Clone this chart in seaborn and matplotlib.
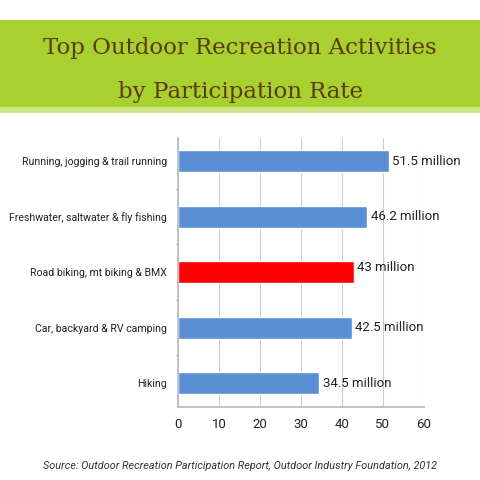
import seaborn as sns
import matplotlib.pyplot as plt
import pandas as pd
from matplotlib.patches import Rectangle

activities = [
    "Running, jogging & trail running",
    "Freshwater, saltwater & fly fishing",
    "Road biking, mt biking & BMX",
    "Car, backyard & RV camping",
    "Hiking",
]
participants = [51.5, 46.2, 43.0, 42.5, 34.5]
value_labels = ["51.5 million", "46.2 million", "43 million", "42.5 million", "34.5 million"]
highlight = "Road biking, mt biking & BMX"
x_ticks = [0, 10, 20, 30, 40, 50, 60]

df = pd.DataFrame({"activity": activities, "millions": participants})

sns.set_theme(style="white")
plt.rcParams["font.family"] = ["Roboto", "DejaVu Sans"]

BLUE = "#5a8fd6"
RED = "#ff0000"
palette = {a: (RED if a == highlight else BLUE) for a in activities}

fig = plt.figure(figsize=(4.8, 4.8), dpi=100)
fig.patch.set_facecolor("white")

# green title banner
fig.patches.append(Rectangle((0, 0.775), 1, 0.183, transform=fig.transFigure,
                             facecolor="#a8d02e", edgecolor="none", zorder=0))
fig.patches.append(Rectangle((0, 0.765), 1, 0.012, transform=fig.transFigure,
                             facecolor="#cfe58a", edgecolor="none", zorder=0))
fig.text(0.5, 0.900, "Top Outdoor Recreation Activities", ha="center", va="center",
         fontsize=16.5, color="#5b3a10", family=["DejaVu Serif"])
fig.text(0.5, 0.808, "by Participation Rate", ha="center", va="center",
         fontsize=16.5, color="#5b3a10", family=["DejaVu Serif"])

ax = fig.add_axes([0.371, 0.153, 0.512, 0.56])
sns.barplot(data=df, x="millions", y="activity", hue="activity", palette=palette,
            order=activities, width=0.4, legend=False, ax=ax, saturation=1)

ax.set_xlim(0, 60)
ax.set_xticks(x_ticks)
ax.set_xlabel("")
ax.set_ylabel("")
ax.grid(axis="x", color="#cccccc", linewidth=0.8)
ax.set_axisbelow(True)
for s in ["top", "right"]:
    ax.spines[s].set_visible(False)
ax.spines["left"].set_color("#bbbbbb")
ax.spines["bottom"].set_color("#bbbbbb")
ax.tick_params(axis="x", labelsize=9.5, colors="#222222", length=0, pad=8)
ax.tick_params(axis="y", labelsize=7.6, colors="#222222", length=0, pad=8)

# small ticks between categories on the left spine
for b in [0.5, 1.5, 2.5, 3.5]:
    ax.plot([-0.6, 0], [b, b], color="#bbbbbb", lw=0.8, clip_on=False)

for i, (v, lab) in enumerate(zip(participants, value_labels)):
    dy = -0.08 if activities[i] == highlight else 0
    ax.text(v + 0.8, i + dy, lab, va="center", ha="left", fontsize=9.5, color="#222222")

fig.text(0.5, 0.03, "Source: Outdoor Recreation Participation Report, Outdoor Industry Foundation, 2012",
         ha="center", va="center", fontsize=7.8, style="italic", color="#333333")

fig.savefig("out.png", dpi=100)
